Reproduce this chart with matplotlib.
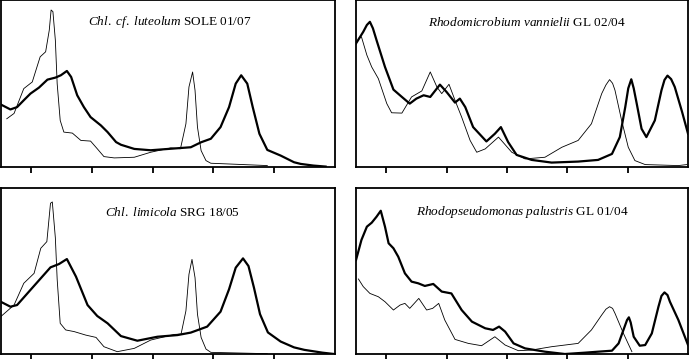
import matplotlib.pyplot as plt
import numpy as np

plt.rcParams['font.family'] = ['Liberation Serif', 'DejaVu Serif']
plt.rcParams['mathtext.fontset'] = 'custom'
plt.rcParams['mathtext.rm'] = 'Liberation Serif'
plt.rcParams['mathtext.it'] = 'Liberation Serif:italic'

# wavelength (nm) / relative absorbance
# panel 1: Chl. cf. luteolum
p1_vivo_x = [350, 366, 377, 388, 399, 413, 427, 440, 449, 459, 466, 476, 487, 498, 515, 526, 540,
             548, 570, 597, 630, 663, 680, 696, 712, 726, 737, 746, 756, 765, 776, 789, 811, 833,
             844, 865, 885]
p1_vivo_y = [0.373, 0.343, 0.357, 0.398, 0.438, 0.474, 0.522, 0.534, 0.548, 0.574, 0.538, 0.428,
             0.357, 0.297, 0.247, 0.207, 0.147, 0.131, 0.106, 0.098, 0.107, 0.116, 0.146, 0.167,
             0.237, 0.357, 0.498, 0.548, 0.498, 0.357, 0.197, 0.100, 0.066, 0.026, 0.016, 0.006,
             0.0]
p1_ext_x = [360, 372, 388, 402, 408, 415, 424, 430, 433, 436, 440, 443, 448, 454, 468, 482, 498,
            509, 520, 537, 570, 597, 630, 646, 655, 660, 666, 670, 674, 680, 688, 696, 723, 789]
p1_ext_y = [0.287, 0.319, 0.468, 0.508, 0.578, 0.659, 0.689, 0.819, 0.940, 0.930, 0.759, 0.498,
            0.277, 0.207, 0.201, 0.157, 0.153, 0.107, 0.060, 0.052, 0.056, 0.086, 0.112, 0.107,
            0.257, 0.478, 0.568, 0.458, 0.237, 0.096, 0.036, 0.020, 0.016, 0.006]

# panel 2: Rhodomicrobium vannielii
p2_vivo_x = [350, 362, 368, 373, 378, 384, 398, 412, 426, 439, 450, 462, 473, 489, 500, 514, 522,
             531, 544, 566, 580, 590, 602, 616, 641, 674, 718, 751, 774, 787, 796, 801, 806, 810,
             815, 823, 831, 845, 856, 861, 866, 872, 878, 890, 900]
p2_vivo_y = [0.739, 0.809, 0.850, 0.869, 0.830, 0.759, 0.598, 0.462, 0.418, 0.378, 0.408, 0.428,
             0.418, 0.492, 0.448, 0.384, 0.408, 0.357, 0.237, 0.151, 0.197, 0.237, 0.147, 0.070,
             0.040, 0.024, 0.030, 0.040, 0.076, 0.177, 0.357, 0.470, 0.524, 0.470, 0.378, 0.227,
             0.177, 0.277, 0.458, 0.520, 0.546, 0.525, 0.478, 0.330, 0.197]
p2_ext_x = [354, 359, 368, 376, 387, 401, 409, 426, 442, 459, 473, 484, 492, 504, 514, 525, 539,
            550, 564, 586, 608, 630, 663, 691, 718, 740, 757, 764, 770, 775, 779, 790, 801, 812,
            829, 884, 898]
p2_ext_y = [0.769, 0.779, 0.669, 0.598, 0.528, 0.378, 0.323, 0.321, 0.418, 0.454, 0.568, 0.478,
            0.438, 0.494, 0.398, 0.297, 0.157, 0.086, 0.106, 0.177, 0.086, 0.046, 0.056, 0.116,
            0.157, 0.257, 0.438, 0.490, 0.522, 0.500, 0.458, 0.277, 0.116, 0.036, 0.012, 0.006,
            0.012]

# panel 3: Chl. limicola
p3_vivo_x = [350, 366, 377, 399, 432, 446, 459, 474, 493, 509, 526, 548, 575, 608, 641, 663, 690,
             712, 726, 737, 749, 758, 767, 777, 790, 811, 833, 850, 880, 899]
p3_vivo_y = [0.315, 0.285, 0.295, 0.386, 0.522, 0.542, 0.572, 0.466, 0.295, 0.229, 0.185, 0.108,
             0.080, 0.104, 0.114, 0.129, 0.165, 0.255, 0.390, 0.520, 0.576, 0.530, 0.400, 0.240,
             0.130, 0.075, 0.040, 0.025, 0.008, 0.0]
p3_ext_x = [350, 372, 388, 405, 416, 426, 432, 435, 440, 443, 448, 457, 471, 490, 507, 520, 542,
            570, 597, 636, 647, 655, 660, 665, 670, 674, 680, 688, 696, 789]
p3_ext_y = [0.225, 0.295, 0.426, 0.486, 0.637, 0.677, 0.908, 0.916, 0.700, 0.450, 0.185, 0.145,
            0.135, 0.114, 0.100, 0.044, 0.014, 0.034, 0.084, 0.118, 0.120, 0.260, 0.480, 0.570,
            0.460, 0.240, 0.100, 0.030, 0.010, 0.002]

# panel 4: Rhodopseudomonas palustris
p4_vivo_x = [350, 359, 368, 376, 384, 391, 398, 404, 412, 420, 431, 442, 453, 464, 478, 492, 508,
             525, 542, 564, 577, 587, 597, 611, 630, 663, 696, 729, 751, 774, 785, 795, 799, 802,
             805, 810, 820, 829, 840, 851, 856, 861, 866, 870, 884, 900]
p4_vivo_y = [0.566, 0.687, 0.767, 0.791, 0.827, 0.863, 0.767, 0.667, 0.637, 0.586, 0.486, 0.436,
             0.426, 0.410, 0.422, 0.376, 0.365, 0.265, 0.195, 0.155, 0.145, 0.165, 0.135, 0.064,
             0.034, 0.014, 0.0, 0.008, 0.014, 0.020, 0.064, 0.165, 0.205, 0.221, 0.190, 0.104,
             0.050, 0.054, 0.124, 0.285, 0.350, 0.371, 0.355, 0.315, 0.205, 0.054]
p4_ext_x = [354, 362, 373, 387, 398, 412, 423, 431, 439, 454, 467, 477, 487, 497, 514, 536, 558,
            580, 597, 619, 641, 674, 718, 740, 757, 764, 770, 775, 779, 793, 807]
p4_ext_y = [0.452, 0.406, 0.365, 0.345, 0.315, 0.265, 0.295, 0.305, 0.275, 0.335, 0.265, 0.275,
            0.305, 0.205, 0.088, 0.064, 0.050, 0.104, 0.054, 0.020, 0.024, 0.044, 0.064, 0.145,
            0.235, 0.270, 0.285, 0.275, 0.245, 0.124, 0.014]

titles = [r"$\mathit{Chl.\ cf.\ luteolum}$ SOLE 01/07",
          r"$\mathit{Rhodomicrobium\ vannielii}$ GL 02/04",
          r"$\mathit{Chl.\ limicola}$ SRG 18/05",
          r"$\mathit{Rhodopseudomonas\ palustris}$ GL 01/04"]
title_pos = [(0.506, 0.867), (0.515, 0.867), (0.515, 0.85), (0.50, 0.855)]
ticks = [400, 500, 600, 700, 800]

panels = [(p1_vivo_x, p1_vivo_y, p1_ext_x, p1_ext_y),
          (p2_vivo_x, p2_vivo_y, p2_ext_x, p2_ext_y),
          (p3_vivo_x, p3_vivo_y, p3_ext_x, p3_ext_y),
          (p4_vivo_x, p4_vivo_y, p4_ext_x, p4_ext_y)]

fig = plt.figure(figsize=(6.89, 3.59), dpi=100)
rects = [[0.001, 0.536, 0.4848, 0.464],
         [0.5167, 0.536, 0.4819, 0.464],
         [0.001, 0.0139, 0.4848, 0.4624],
         [0.5167, 0.0139, 0.4819, 0.4624]]

for i, rect in enumerate(rects):
    ax = fig.add_axes(rect)
    vx, vy, ex, ey = panels[i]
    ax.plot(ex, ey, color='black', lw=0.6)
    ax.plot(vx, vy, color='black', lw=1.6, solid_joinstyle='round')
    ax.set_xlim(350, 900)
    ax.set_ylim(0, 1)
    ax.set_xticks(ticks)
    ax.set_xticklabels([])
    ax.set_yticks([])
    ax.tick_params(axis='x', direction='out', length=4, width=1.3)
    for s in ax.spines.values():
        s.set_linewidth(1.3)
    tx, ty = title_pos[i]
    ax.text(tx, ty, titles[i], transform=ax.transAxes, ha='center', va='center', fontsize=9.5)

fig.savefig('out.png', dpi=100)
